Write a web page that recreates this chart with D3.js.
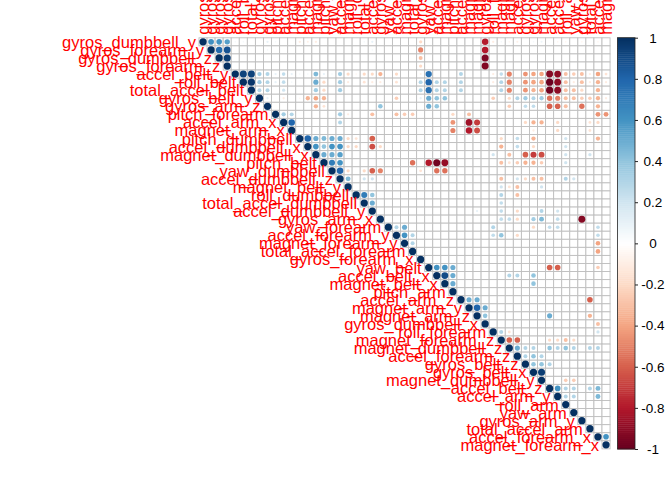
<!DOCTYPE html>
<html><head><meta charset="utf-8">
<script src="https://cdn.jsdelivr.net/npm/d3@7"></script>
<style>body{margin:0;background:#fff}svg{display:block}</style>
</head><body>
<svg id="chart" width="672" height="480"></svg>
<script>
const variables = ["gyros_dumbbell_y","gyros_forearm_y","gyros_dumbbell_z","gyros_forearm_z","accel_belt_y","roll_belt","total_accel_belt","gyros_belt_y","gyros_arm_z","pitch_forearm","accel_arm_x","magnet_arm_x","pitch_dumbbell","accel_dumbbell_x","magnet_dumbbell_x","pitch_belt","yaw_dumbbell","accel_dumbbell_z","magnet_belt_y","roll_dumbbell","total_accel_dumbbell","accel_dumbbell_y","gyros_arm_x","yaw_forearm","accel_forearm_y","magnet_forearm_y","total_accel_forearm","gyros_forearm_x","yaw_belt","accel_belt_x","magnet_belt_x","pitch_arm","accel_arm_z","magnet_arm_y","magnet_arm_z","gyros_dumbbell_x","roll_forearm","magnet_forearm_z","magnet_dumbbell_z","accel_forearm_z","gyros_belt_z","gyros_belt_x","magnet_dumbbell_y","accel_belt_z","accel_arm_y","roll_arm","yaw_arm","gyros_arm_y","total_accel_arm","accel_forearm_x","magnet_forearm_x"];

// upper triangle: row i lists correlations with columns i..50
const corrUpper = [
[1,.62,.6,.55,.05, .05,0,0,.1,.05, 0,0,-.1,-.08,-.1, 0,0,0,0,0, .05,.1,0,0,0, 0,0,-.2,0,0, 0,0,0,0,0, -.79,-.1,.05,-.05,-.08, 0,.05,.08,0,-.05, -.05,0,-.05,0,-.05, 0],
[1,.78,.87,0, 0,0,0,.05,0, 0,0,0,0,0, 0,0,0,0,0, 0,.05,0,0,0, 0,0,-.5,0,0, 0,0,0,0,0, -.8,0,0,0,0, 0,0,0,0,0, 0,0,0,0,0, 0],
[1,.95,0, 0,0,0,0,0, 0,0,0,0,0, 0,0,0,0,0, 0,0,0,0,0, 0,0,-.3,0,0, 0,0,0,0,0, -.94,0,0,0,0, 0,0,0,0,0, 0,0,0,0,0, 0],
[1,0, 0,0,0,0,0, 0,0,0,0,0, 0,0,0,0,0, 0,0,0,0,0, 0,0,-.2,0,0, 0,0,0,0,0, -.93,0,0,0,0, 0,0,0,0,0, 0,0,0,0,0, 0],
[1, .93,.93,.35,.3,.1, .25,.1,.05,.05,.45, .1,.05,.35,-.2,-.05, -.2,-.2,-.35,0,-.2, 0,0,-.08,.75,0, 0,0,.3,0,0, 0,-.1,.25,-.5,0, -.45,-.4,-.4,-.92,-.9, -.3,-.25,-.3,-.1,-.4, -.15],
[1,.98,.35,.3,.1, .25,.05,0,0,.5, -.2,0,.35,-.1,0, -.15,-.1,-.1,0,-.15, 0,0,.3,.8,.3, .3,0,.3,0,0, 0,-.1,.3,-.5,0, -.45,-.4,-.4,-.99,-.9, -.3,-.1,-.3,-.1,-.35, -.1],
[1,.3,.3,0, .2,0,0,0,.35, -.2,0,.35,0,0, 0,0,0,0,0, 0,0,.3,.75,.3, .3,0,.3,0,0, 0,0,.3,-.5,0, -.45,-.35,-.4,-.97,-.9, -.3,-.3,-.2,0,-.35, 0],
[1,.1,0, -.1,0,-.05,-.35,-.4, -.35,0,0,0,0, 0,0,0,0,-.25, 0,0,.1,.5,.4, .4,0,0,0,0, 0,-.25,0,-.2,.3, .35,.3,.35,-.55,-.5, -.3,-.3,-.25,-.25,-.35, -.1],
[1,0, 0,0,0,0,-.35, -.15,0,0,0,0, 0,0,.4,0,0, 0,0,0,.5,.4, 0,0,0,0,0, 0,0,0,-.25,0, .25,.25,0,-.6,-.6, -.3,0,-.55,0,-.35, 0],
[1, .35,.3,0,0,0, 0,0,.35,-.1,0, 0,-.3,0,0,-.3, -.25,-.25,0,0,0, 0,-.2,0,-.3,0, 0,0,0,0,0, 0,0,0,0,0, 0,0,0,0,-.45, -.45],
[1,.8,0,0,0, 0,0,.3,0,0, 0,0,0,0,0, 0,0,0,0,0, 0,-.45,0,-.85,-.7, 0,0,0,0,0, -.2,-.35,-.35,0,-.2, 0,0,0,-.15,-.2, 0],
[1,0,0,0, 0,0,0,0,0, 0,0,0,0,0, 0,0,0,0,0, 0,-.5,0,-.8,-.65, 0,0,0,0,0, 0,-.1,0,0,-.2, 0,0,0,-.15,0, 0],
[1,.8,.5, .45,.5,.5,-.2,-.15, 0,-.6,0,0,0, 0,0,0,0,0, 0,0,0,0,0, 0,0,-.2,0,.25, 0,-.35,0,0,0, .2,0,0,0,-.35, 0],
[1,.6, .4,.6,.6,-.2,-.2, 0,-.65,-.2,0,0, 0,0,0,0,0, 0,0,0,0,0, 0,0,-.35,0,.25, 0,-.2,0,0,0, .2,0,0,0,0, 0],
[1, .5,.5,.55,0,0, 0,0,0,0,0, 0,0,0,0,0, 0,0,0,0,0, 0,.2,0,-.3,0, -.6,-.7,-.65,0,0, .2,0,0,.2,0, 0],
[1,.7,.6,0,0, 0,0,0,0,0, 0,-.55,0,-.8,-.97, -.88,0,0,0,0, 0,0,-.3,-.15,-.25, -.35,-.35,-.25,0,0, .2,0,0,0,0, 0],
[1,.8,-.2,0, -.2,-.6,-.5,0,0, 0,0,-.15,0,-.55, -.55,0,0,0,0, 0,0,0,0,0, 0,0,0,0,0, 0,0,0,0,0, 0],
[1,.45,0, .2,.2,0,0,0, 0,0,0,0,0, 0,0,0,0,0, 0,0,-.3,0,.2, -.2,-.3,-.3,0,0, .3,.2,0,0,0, 0],
[1,0, 0,0,0,0,0, 0,0,0,0,0, 0,0,0,0,0, 0,0,.2,-.15,-.3, 0,0,.2,0,0, 0,0,0,0,0, 0],
[1, .7,.4,0,0,0, 0,0,0,0,0, 0,0,0,0,0, 0,0,.3,0,-.3, 0,0,0,0,0, 0,0,0,0,0, 0],
[1,.5,0,0,0, 0,0,0,0,0, 0,0,0,0,0, 0,0,.25,0,0, 0,0,0,0,0, 0,0,0,0,0, 0],
[1,0,0,0, 0,0,0,0,0, 0,0,0,0,.1, 0,0,.25,0,-.2, 0,0,.3,0,.2, 0,0,0,0,0, 0],
[1,0,0, 0,0,0,0,0, 0,0,0,0,0, 0,0,.25,.25,-.2, 0,.35,.45,0,.25, 0,0,-.92,0,0, 0],
[1,.3, .5,0,0,0,0, 0,0,0,0,0, 0,.3,0,0,0, 0,-.2,0,.25,.25, 0,0,0,0,.25, 0],
[1, .6,.3,0,0,0, 0,0,0,0,0, 0,.25,.4,0,-.2, 0,0,0,0,0, 0,0,0,0,.25, 0],
[1,.3,0,0,0, 0,0,0,0,0, 0,0,0,0,0, 0,0,0,0,0, 0,0,0,0,-.4, 0],
[1,0,0,0, 0,0,0,0,0, 0,0,0,0,0, 0,0,0,0,0, 0,0,0,0,-.4, 0],
[1,0,0, 0,0,0,0,0, 0,0,0,0,0, 0,0,0,0,0, 0,0,0,0,0, 0],
[1,.6, .6,.5,0,0,0, 0,0,0,0,0, 0,0,0,-.6,-.6, 0,0,0,0,-.25, 0],
[1, .9,.5,0,0,0, 0,0,0,.3,.3, 0,.4,0,0,0, 0,0,0,0,0, 0],
[1,.5,0,0,0, 0,0,0,0,0, 0,.4,0,0,0, 0,0,0,0,0, 0],
[1,0,0,0, 0,0,0,0,0, 0,0,0,0,0, 0,0,0,0,0, 0],
[1,.5,.5, 0,0,0,0,0, 0,0,0,0,0, 0,0,0,-.6,0, 0],
[1,.8, .5,0,0,0,0, 0,0,0,0,0, 0,0,0,0,0, 0],
[1, .4,0,0,0,0, 0,0,0,.5,0, 0,0,0,-.35,0, 0],
[1,0,0,0,0, 0,0,0,0,0, 0,0,0,0,-.3, 0],
[1,.3,-.15,0, 0,0,0,0,0, 0,0,0,0,.2, 0],
[1,-.6,-.6, 0,0,0,-.2,-.2, -.3,-.2,0,0,0, 0],
[1,.5, .3,.3,0,.4,.3, .4,.3,0,.3,.3, 0],
[1, .3,.4,.3,0,0, 0,0,0,0,0, 0],
[1,.4,.4,.3,0, 0,0,0,0,0, 0],
[1,.95,0,0, 0,0,0,0,0, 0],
[1,0,0, -.25,-.25,0,0,0, 0],
[1,.6, .3,.3,0,.3,.45, 0],
[1, .3,.3,0,0,.45, 0],
[1,0,0,0,0, 0],
[1,0,0,0, 0],
[1,0,0, 0],
[1,0, 0],
[1, .6],
[1]
];

const legendTicks = [-1,-0.8,-0.6,-0.4,-0.2,0,0.2,0.4,0.6,0.8,1];
const paletteStops = ["#67001F","#B2182B","#D6604D","#F4A582","#FDDBC7","#FFFFFF","#D1E5F0","#92C5DE","#4393C3","#2166AC","#053061"];

const n = variables.length;
const cell = 8.06;
const gridLeft = 199, gridTop = 37.8;
const svg = d3.select("#chart");
svg.append("rect").attr("width",672).attr("height",480).attr("fill","#fff");

const x = d3.scaleLinear().domain([0, n]).range([gridLeft, gridLeft + n * cell]);
const y = d3.scaleLinear().domain([0, n]).range([gridTop, gridTop + n * cell]);
const color = d3.scaleLinear().domain(d3.range(11).map(k => -1 + k * 0.2)).range(paletteStops).clamp(true);
const radius = d3.scaleSqrt().domain([0, 1]).range([0, 0.45 * cell]);

const cells = [];
corrUpper.forEach((row, i) => row.forEach((v, k) => cells.push({i, j: i + k, v})));

const g = svg.append("g");
g.selectAll("rect.cell").data(cells).join("rect")
  .attr("class","cell")
  .attr("x", d => x(d.j)).attr("y", d => y(d.i))
  .attr("width", cell).attr("height", cell)
  .attr("fill", "#fff").attr("stroke", "#bebebe").attr("stroke-width", 0.9);

g.selectAll("circle").data(cells.filter(d => d.v !== 0)).join("circle")
  .attr("cx", d => x(d.j + 0.5)).attr("cy", d => y(d.i + 0.5))
  .attr("r", d => radius(Math.abs(d.v)))
  .attr("fill", d => color(d.v));

const font = "'Liberation Sans', Arial, sans-serif";
const labelSize = 16.5;
// row labels
svg.append("g").selectAll("text").data(variables).join("text")
  .attr("x", (d, i) => x(i) - 3).attr("y", (d, i) => y(i + 0.5))
  .attr("text-anchor", "end").attr("dominant-baseline", "central")
  .attr("font-family", font).attr("font-size", labelSize).attr("fill", "red")
  .text(d => d);
// column labels
svg.append("g").selectAll("text").data(variables).join("text")
  .attr("transform", (d, j) => `translate(${x(j + 0.5)},${gridTop - 3}) rotate(-90)`)
  .attr("text-anchor", "start").attr("dominant-baseline", "central")
  .attr("font-family", font).attr("font-size", labelSize).attr("fill", "red")
  .text(d => d);

// color legend
const legX = 617.5, legW = 17.5, legTop = 37.7, legBottom = 449;
const ly = d3.scaleLinear().domain([-1, 1]).range([legBottom, legTop]);
const steps = d3.range(200).map(k => -1 + (k + 0.5) * 2 / 200);
svg.append("g").selectAll("rect").data(steps).join("rect")
  .attr("x", legX).attr("width", legW)
  .attr("y", d => ly(d + 0.005)).attr("height", (ly(-1) - ly(1)) / 200 + 0.4)
  .attr("fill", d => color(d));
svg.append("rect").attr("x", legX).attr("y", legTop).attr("width", legW).attr("height", legBottom - legTop)
  .attr("fill", "none").attr("stroke", "#222").attr("stroke-width", 0.8);
const axis = svg.append("g").attr("transform", `translate(${legX + legW},0)`)
  .call(d3.axisRight(ly).tickValues(legendTicks).tickSize(3).tickFormat(d => String(d)));
axis.select(".domain").remove();
axis.selectAll("line").attr("stroke", "#222");
axis.selectAll("text").attr("x", 18).attr("text-anchor", "middle")
  .attr("font-family", font).attr("font-size", 13.5).attr("fill", "#000");

const bad = corrUpper.map((r, i) => r.length === n - i ? null : i + ":" + r.length).filter(Boolean);
if (bad.length) throw new Error("row length mismatch " + bad.join(","));
</script>
</body></html>
